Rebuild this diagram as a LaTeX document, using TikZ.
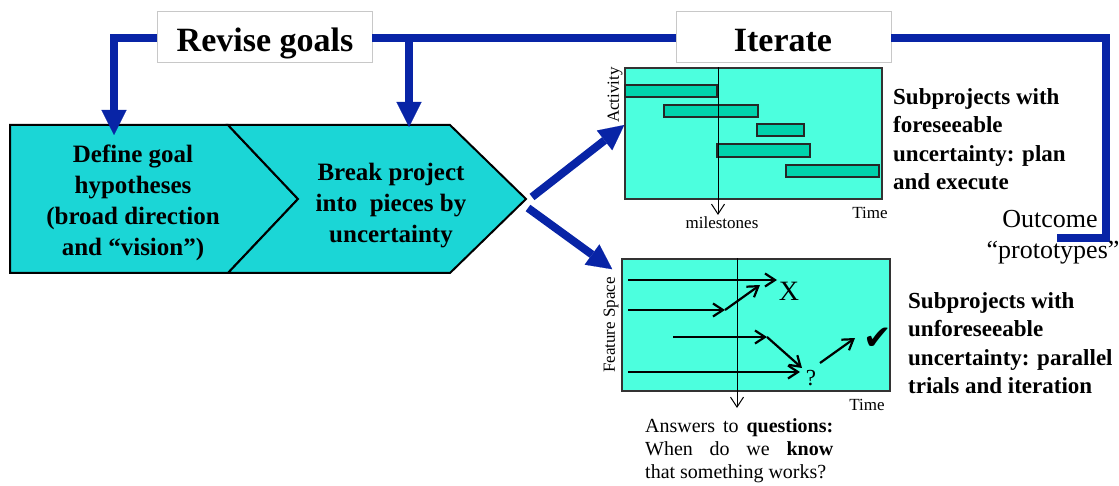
\documentclass[tikz,border=0pt]{standalone}
\usepackage{fontspec}
\setmainfont{Liberation Serif}
\newfontfamily\dejavu{DejaVu Sans}
\usetikzlibrary{arrows.meta}
\definecolor{chev}{RGB}{27,214,214}
\definecolor{gbox}{RGB}{76,255,222}
\definecolor{gbar}{RGB}{0,210,172}
\definecolor{fblue}{RGB}{8,36,166}
\definecolor{gborder}{RGB}{200,200,200}
\begin{document}
\begin{tikzpicture}[x=1pt,y=-1pt,
 labelbox/.style={draw=gborder, line width=0.8pt, fill=white, minimum width=215pt, minimum height=51pt, inner sep=0pt},
 labeltext/.style={anchor=base, inner sep=0pt, font=\bfseries\fontsize{34}{40}\selectfont},
 feedback/.style={draw=fblue, line width=8pt, line join=miter},
 fbarrow/.style={feedback, -{Triangle[length=25pt,width=25pt,line width=0.1pt]}},
 chevron/.style={fill=chev, draw=black, line width=2pt, line join=miter},
 steptext/.style={align=center, inner sep=0pt, font=\bfseries\fontsize{25}{31}\selectfont},
 subtext/.style={align=left, anchor=west, inner sep=0pt, font=\bfseries\fontsize{23}{28.5}\selectfont},
 chart/.style={draw=black!80, line width=1.5pt, fill=gbox, inner sep=0pt},
 bar/.style={draw=black!85, line width=1.5pt, fill=gbar},
 axis/.style={inner sep=0pt, font=\fontsize{17}{20}\selectfont},
 trial/.style={line width=2.2pt, -{Straight Barb[length=10pt,width=13pt]}},
 mile/.style={line width=1pt, -{Straight Barb[length=10pt,width=13pt]}},
 outtext/.style={anchor=base, inner sep=0pt, font=\fontsize{26}{30}\selectfont},
]
\useasboundingbox (0,0) rectangle (1119,486);

% process chevrons
\draw[chevron] (10,125) -- (228,125) -- (298,199) -- (228,273) -- (10,273) -- cycle;
\draw[chevron] (228,125) -- (450,125) -- (526,199) -- (450,273) -- (228,273) -- (298,199) -- cycle;
\node[steptext] (define) at (133,203) {Define goal\\hypotheses\\(broad direction\\and “vision”)};
\node[steptext] (breakp) at (391,206) {Break project\\into\ \ pieces by\\uncertainty};
\coordinate (tip) at (526,199);

% label boxes
\node[labelbox] (revise) at (264.5,36.5) {};
\node[labeltext] (revisetxt) at (265,52) {Revise goals};
\node[labelbox] (iterate) at (783.5,36.5) {};
\node[labeltext] (iteratetxt) at (783,52) {Iterate};

% feedback lines
\coordinate (in1) at (114,135);
\coordinate (in2) at (409,127);
\coordinate (corner) at (1106,238);
\coordinate (out) at (1057,238);
\draw[fbarrow] ([yshift=-2pt]revise.west) -| (in1);
\draw[feedback] ([yshift=-2pt]revise.east) -- ([yshift=-2pt]iterate.west);
\draw[fbarrow] (in2 |- 0,38.5) -- (in2);
\draw[feedback] ([yshift=-2pt]iterate.east) -| (corner) -- (out);
\node[outtext] (outcome) at (1050,228) {Outcome};
\node[outtext] (prototypes) at (1053,259) {“prototypes”};

% Gantt chart
\node[chart, minimum width=257pt, minimum height=131pt] (gantt) at (753.5,133.5) {};
\draw[bar] (625,85) rectangle (717,97);
\draw[bar] (664,105) rectangle (758,117);
\draw[bar] (757,124) rectangle (804,136);
\draw[bar] (717,144) rectangle (810,157);
\draw[bar] (786,165) rectangle (879,177);
\coordinate (ms) at (718,215);
\draw[mile] (ms |- gantt.north) -- (ms);
\node[axis, anchor=base] (milestones) at (722,229) {milestones};
\node[axis] (time1) at (870,213) {Time};
\node[axis, rotate=90] (activity) at (615,95) {Activity};
\node[subtext] (foresee) at (893,139) {Subprojects with\\foreseeable\\uncertainty: plan\\and execute};

% trials chart
\node[chart, minimum width=268pt, minimum height=132pt] (trials) at (756,325) {};
\coordinate (qa) at (737,408);
\draw[mile] (qa |- trials.north) -- (qa);
\node[axis, rotate=90] (feature) at (611,325) {Feature Space};
\node[axis] (time2) at (867,405) {Time};
\node[inner sep=0pt, font=\fontsize{28}{30}\selectfont] (xmark) at (789,291) {X};
\node[inner sep=0pt, font=\fontsize{23}{26}\selectfont] (qmark) at (811,378) {?};
\node[inner sep=0pt, font=\dejavu\bfseries\fontsize{34}{36}\selectfont] (check) at (878,339) {✔};
\coordinate (s1) at (628,280); \coordinate (e1) at (777,280);
\coordinate (s2) at (628,310); \coordinate (m2) at (725,310); \coordinate (e2) at (760,285);
\coordinate (s3) at (673,337); \coordinate (m3) at (767,337); \coordinate (e3) at (802,368);
\coordinate (s4) at (628,372); \coordinate (e4) at (800,372);
\coordinate (s5) at (820,363); \coordinate (e5) at (855,338);
\draw[trial] (s1) -- (e1);
\draw[trial] (s2) -- (m2);
\draw[trial] (m2) -- (e2);
\draw[trial] (s3) -- (m3);
\draw[trial] (m3) -- (e3);
\draw[trial] (s4) -- (e4);
\draw[trial] (s5) -- (e5);
\node[subtext] (unforesee) at (908,343) {Subprojects with\\unforeseeable\\uncertainty: parallel\\trials and iteration};
\node[anchor=west, align=left, inner sep=0pt, font=\fontsize{20}{23}\selectfont] (answers) at (645,451)
 {\makebox[188pt][s]{Answers to \textbf{questions:}}\\\makebox[188pt][s]{When do we \textbf{know}}\\that something works?};

% arrows from the process to the subprojects
\draw[fbarrow] ([shift={(6,-2)}]tip) -- ([yshift=8.5pt]gantt.west);
\draw[fbarrow] ([shift={(2,9)}]tip) -- ([shift={(-9pt,-11pt)}]trials.north west);
\end{tikzpicture}
\end{document}
